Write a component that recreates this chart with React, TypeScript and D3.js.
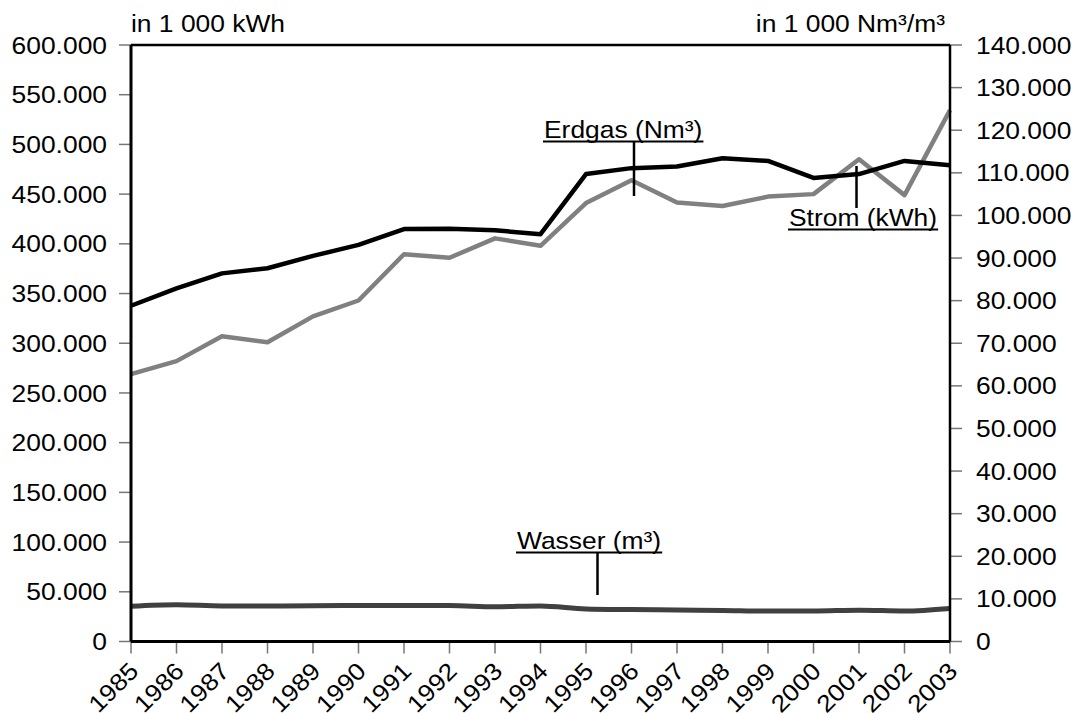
import React from "react";
import * as d3 from "d3";

const years = [1985, 1986, 1987, 1988, 1989, 1990, 1991, 1992, 1993, 1994, 1995, 1996, 1997, 1998, 1999, 2000, 2001, 2002, 2003];
// Strom in 1 000 kWh (left axis)
const strom = [269000, 282000, 307000, 301000, 327000, 343000, 389500, 386000, 405500, 398000, 441000, 464000, 441500, 438000, 447500, 450000, 485000, 449000, 534500];
// Erdgas in 1 000 Nm³ (right axis)
const erdgas = [78800, 82900, 86400, 87600, 90500, 93100, 96800, 96900, 96500, 95600, 109700, 111100, 111500, 113400, 112800, 108800, 109700, 112800, 111800];
// Wasser in 1 000 m³ (right axis)
const wasser = [8300, 8650, 8350, 8350, 8400, 8450, 8450, 8450, 8150, 8350, 7650, 7500, 7400, 7300, 7150, 7150, 7350, 7150, 7750];

const leftTicks = [0, 50000, 100000, 150000, 200000, 250000, 300000, 350000, 400000, 450000, 500000, 550000, 600000];
const rightTicks = [0, 10000, 20000, 30000, 40000, 50000, 60000, 70000, 80000, 90000, 100000, 110000, 120000, 130000, 140000];
const leftTitle = "in 1 000 kWh";
const rightTitle = "in 1 000 Nm³/m³";
const labels = { erdgas: "Erdgas (Nm³)", strom: "Strom (kWh)", wasser: "Wasser (m³)" };

const W = 1074, H = 713;
const M = { left: 131, right: 950, top: 45, bottom: 641.5 };
const FONT = "'Liberation Sans', Arial, sans-serif";
const FS = 24;
const SX = 1.1;

const loc = d3.formatLocale({ decimal: ",", thousands: ".", grouping: [3], currency: ["", "€"] });
const fmt = loc.format(",.0f");

let ctx: CanvasRenderingContext2D | null = null;
function textWidth(s: string): number {
  if (!ctx) {
    const c = document.createElement("canvas");
    ctx = c.getContext("2d");
  }
  if (!ctx) return s.length * FS * 0.55 * SX;
  ctx.font = `${FS}px 'Liberation Sans', Arial, sans-serif`;
  return ctx.measureText(s).width * SX;
}

function Txt(props: { x: number; y: number; anchor?: string; rot?: number; children: any; baseline?: string }) {
  const { x, y, anchor = "start", rot = 0, children, baseline } = props;
  return (
    <text
      transform={`translate(${x},${y}) rotate(${rot}) scale(${SX},1)`}
      textAnchor={anchor}
      dominantBaseline={baseline}
      fontFamily={FONT}
      fontSize={FS}
      fill="#000"
    >
      {children}
    </text>
  );
}

function Label(props: { x: number; y: number; text: string }) {
  const { x, y, text } = props;
  const w = textWidth(text);
  return (
    <g>
      <Txt x={x} y={y}>{text}</Txt>
      <line x1={x - 1} x2={x + w + 1} y1={y + 3.5} y2={y + 3.5} stroke="#000" strokeWidth={2} />
    </g>
  );
}

export default function App() {
  const x = d3.scaleLinear().domain([years[0], years[years.length - 1]]).range([M.left, M.right]);
  const yL = d3.scaleLinear().domain([0, 600000]).range([M.bottom, M.top]);
  const yR = d3.scaleLinear().domain([0, 140000]).range([M.bottom, M.top]);

  const lineL = d3.line<number>().x((_, i) => x(years[i])).y((d) => yL(d));
  const lineR = d3.line<number>().x((_, i) => x(years[i])).y((d) => yR(d));
  const lineW = d3.line<number>().x((_, i) => x(years[i])).y((d) => yR(d)).curve(d3.curveMonotoneX);

  const iErd = years.indexOf(1996);
  const iStr = years.indexOf(2001);

  return (
    <svg width={W} height={H} style={{ position: "absolute", left: 0, top: 0, background: "#fff" }}>
      <rect x={0} y={0} width={W} height={H} fill="#fff" />
      {leftTicks.map((t) => (
        <g key={"l" + t}>
          <line x1={M.left - 12} x2={M.left} y1={yL(t)} y2={yL(t)} stroke="#777" strokeWidth={1.5} />
          <Txt x={M.left - 24} y={yL(t)} anchor="end" baseline="central">{fmt(t)}</Txt>
        </g>
      ))}
      {rightTicks.map((t) => (
        <g key={"r" + t}>
          <line x1={M.right} x2={M.right + 12} y1={yR(t)} y2={yR(t)} stroke="#777" strokeWidth={1.5} />
          <Txt x={M.right + 26} y={yR(t)} anchor="start" baseline="central">{fmt(t)}</Txt>
        </g>
      ))}
      {years.map((yr) => (
        <g key={"x" + yr}>
          <line x1={x(yr)} x2={x(yr)} y1={M.bottom} y2={M.bottom + 12} stroke="#777" strokeWidth={1.5} />
          <Txt x={x(yr) + 9} y={M.bottom + 31} anchor="end" rot={-45}>{String(yr)}</Txt>
        </g>
      ))}
      <Txt x={M.left} y={32} anchor="start">{leftTitle}</Txt>
      <Txt x={945} y={32} anchor="end">{rightTitle}</Txt>

      <path d={lineW(wasser) || ""} fill="none" stroke="#404040" strokeWidth={5} strokeLinejoin="round" />
      <path d={lineL(strom) || ""} fill="none" stroke="#808080" strokeWidth={4.5} strokeLinejoin="round" />
      <path d={lineR(erdgas) || ""} fill="none" stroke="#000" strokeWidth={4.5} strokeLinejoin="round" />

      <line x1={M.left} x2={M.right} y1={M.top} y2={M.top} stroke="#000" strokeWidth={2.5} />
      <line x1={M.right} x2={M.right} y1={M.top} y2={M.bottom} stroke="#000" strokeWidth={2.5} />
      <line x1={M.left} x2={M.left} y1={M.top} y2={M.bottom} stroke="#000" strokeWidth={3} />
      <line x1={M.left} x2={M.right} y1={M.bottom} y2={M.bottom} stroke="#000" strokeWidth={3} />

      <Label x={544} y={138} text={labels.erdgas} />
      <line x1={x(years[iErd]) + 2.5} x2={x(years[iErd]) + 2.5} y1={141} y2={196} stroke="#000" strokeWidth={2.5} />
      <Label x={789} y={226} text={labels.strom} />
      <line x1={x(years[iStr]) - 2.5} x2={x(years[iStr]) - 2.5} y1={166} y2={208} stroke="#000" strokeWidth={2.5} />
      <Label x={517} y={549} text={labels.wasser} />
      <line x1={597.5} x2={597.5} y1={552} y2={595} stroke="#000" strokeWidth={2.5} />
    </svg>
  );
}
